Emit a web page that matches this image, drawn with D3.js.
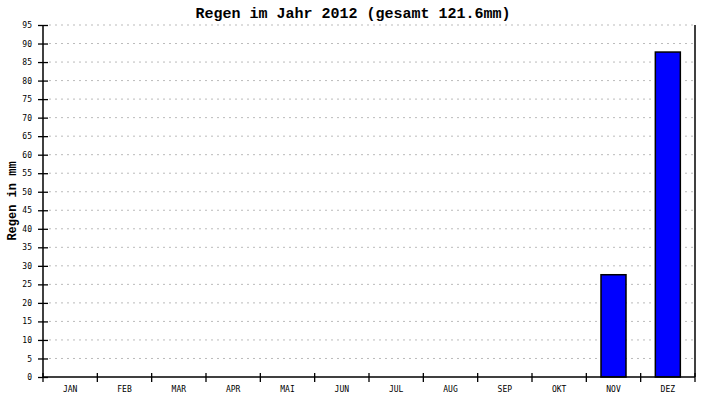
<!DOCTYPE html>
<html lang="de">
<head>
    <meta charset="UTF-8">
    <title>Regen im Jahr 2012</title>
    <script src="https://d3js.org/d3.v7.min.js"></script>
    <style>
        body { margin: 0; background: #fff; }
        svg { display: block; }
        .title { font: bold 15px "Liberation Mono", "DejaVu Sans Mono", monospace; }
        .ylabel { font: bold 12px "Liberation Mono", "DejaVu Sans Mono", monospace; }
        .tick text { font: 8px "DejaVu Sans Mono", monospace; fill: #000; }
    </style>
</head>
<body>
<svg width="710" height="400"></svg>
<script>
    // data
    let months = ["JAN","FEB","MAR","APR","MAI","JUN","JUL","AUG","SEP","OKT","NOV","DEZ"];
    let rain = [0, 0, 0, 0, 0, 0, 0, 0, 0, 0, 27.6, 87.7];
    let yTicks = d3.range(0, 96, 5);
    let titleText = "Regen im Jahr 2012 (gesamt 121.6mm)";
    let yTitle = "Regen in mm";

    let svg = d3.select('svg');
    let margins = {left: 43, right: 15, top: 25, bottom: 23};
    let W = 710, H = 400;

    let xScale = d3.scaleBand().domain(months).range([margins.left, W - margins.right]);
    let yScale = d3.scaleLinear().domain([0, 95]).range([H - margins.bottom, margins.top]);

    // grid lines
    svg.append('g').selectAll('line').data(yTicks.filter(function (d){ return d > 0; }))
        .enter().append('line')
        .attr('x1', margins.left + 6).attr('x2', W - margins.right)
        .attr('y1', function (d){ return yScale(d); })
        .attr('y2', function (d){ return yScale(d); })
        .attr('stroke', '#bbbbbb')
        .attr('stroke-dasharray', '2,4');

    // right border
    svg.append('line')
        .attr('x1', W - margins.right).attr('x2', W - margins.right)
        .attr('y1', margins.top).attr('y2', H - margins.bottom)
        .attr('stroke', '#000').attr('stroke-width', 1.5);

    // bars
    let bw = xScale.bandwidth() * 0.46;
    svg.append('g').selectAll('rect').data(rain)
        .enter().append('rect')
        .filter(function (d){ return d > 0; })
        .attr('x', function (d){ return xScale(months[rain.indexOf(d)]) + (xScale.bandwidth() - bw) / 2; })
        .attr('y', function (d){ return yScale(d); })
        .attr('width', bw)
        .attr('height', function (d){ return yScale(0) - yScale(d); })
        .attr('fill', '#0000ff')
        .attr('stroke', '#000')
        .attr('stroke-width', 1.5);

    // y axis
    let yAxis = svg.append('g')
        .attr('transform', 'translate(' + margins.left + ',0)')
        .call(d3.axisLeft(yScale).tickValues(yTicks).tickSize(5).tickPadding(6));
    yAxis.selectAll('.tick line').attr('x2', 5).attr('x1', -5).attr('stroke-width', 1.3);
    yAxis.select('.domain').attr('d', 'M0,' + margins.top + 'V' + (H - margins.bottom)).attr('stroke-width', 1.5);
    yAxis.selectAll('.tick text').attr('x', -11);

    // x axis
    let xAxis = svg.append('g')
        .attr('transform', 'translate(0,' + (H - margins.bottom) + ')')
        .call(d3.axisBottom(xScale).tickSize(0).tickPadding(9));
    xAxis.select('.domain').attr('d', 'M' + margins.left + ',0H' + (W - margins.right)).attr('stroke-width', 1.5);
    xAxis.selectAll('.xt').data(d3.range(0, months.length + 1))
        .enter().append('line')
        .attr('x1', function (i){ return margins.left + i * xScale.step(); })
        .attr('x2', function (i){ return margins.left + i * xScale.step(); })
        .attr('y1', -4).attr('y2', 5)
        .attr('stroke', '#000').attr('stroke-width', 1.3);

    // titles
    svg.append('text').attr('class', 'title')
        .attr('x', 353).attr('y', 18)
        .attr('text-anchor', 'middle')
        .text(titleText);
    svg.append('text').attr('class', 'ylabel')
        .attr('transform', 'translate(16,' + yScale(47.5) + ') rotate(-90)')
        .attr('text-anchor', 'middle')
        .text(yTitle);
</script>
</body>
</html>
